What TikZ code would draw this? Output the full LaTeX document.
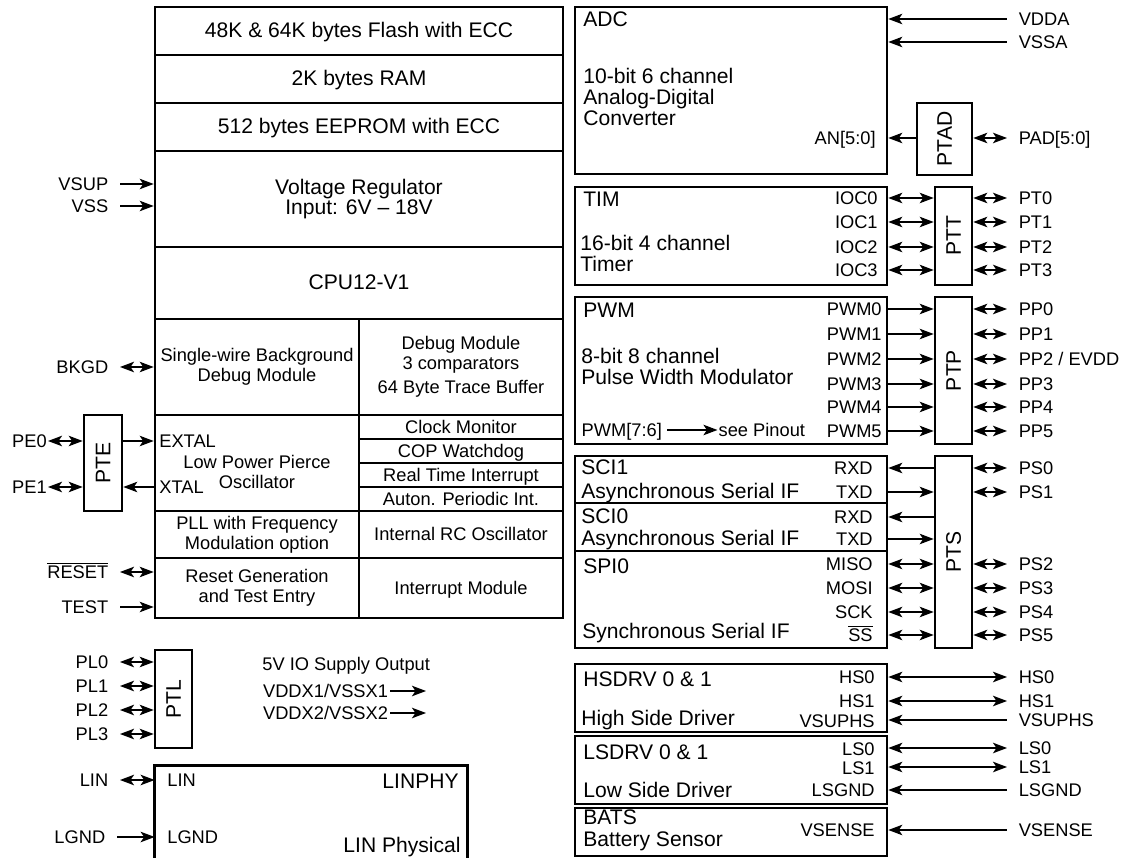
\documentclass[tikz,border=0pt]{standalone}
\usepackage{fontspec}
\setmainfont{Liberation Sans}
\usepackage {tikz}
\usetikzlibrary {positioning}
\usetikzlibrary{fit}
\usetikzlibrary{arrows.meta}
\tikzset{
    box/.style = {draw, line width=1.5pt, inner sep=0pt},
    big/.style = {font=\fontsize{12}{11.8}\selectfont},
    small/.style = {font=\fontsize{10.4}{11.4}\selectfont},
    tag/.style = {text height=0.72em, text depth=0pt, inner sep=0pt},
    ext/.style = {small, tag, inner xsep=6.5pt},
    port/.style = {big, rotate=90, inner sep=0pt}}
\begin{document}
\begin{tikzpicture}[x=0.02cm, y=-0.02cm,
    >={Stealth[length=8pt, width=6pt, inset=2pt]},
    pin/.style={line width=0.75pt},
    cell/.style={box},
    celltxt/.style={align=center, inner sep=0pt}
    ]
    \useasboundingbox (0,0) rectangle (1127,858);
    % memories, regulator, cpu
    \node[cell, fit={(155,7) (563,55)}] (FLASH) {};
    \node[big, tag] (FLASHtxt) at (FLASH) {48K \& 64K bytes Flash with ECC};
    \node[cell, fit={(155,55) (563,103)}] (RAM) {};
    \node[big, tag] (RAMtxt) at (RAM) {2K bytes RAM};
    \node[cell, fit={(155,103) (563,151)}] (EEPROM) {};
    \node[big, tag] (EEPROMtxt) at (EEPROM) {512 bytes EEPROM with ECC};
    \node[cell, fit={(155,151) (563,247)}] (VREG) {};
    \node[big, celltxt] (VREGtxt) at (VREG) {Voltage Regulator\\Input: 6V – 18V};
    \node[cell, fit={(155,247) (563,319)}] (CPU) {};
    \node[big, tag] (CPUtxt) at (CPU) {CPU12-V1};
    % debug, clocks, reset
    \node[cell, fit={(155,319) (359,415)}] (BDM) {};
    \node[small, celltxt] (BDMtxt) at (BDM) {Single-wire Background\\Debug Module};
    \node[cell, fit={(359,319) (563,415)}] (DBG) {};
    \node[small, celltxt] (DBGtxt) at (DBG) {Debug Module\\3 comparators\\[2pt]64 Byte Trace Buffer};
    \node[cell, fit={(155,415) (359,511)}] (OSC) {};
    \node[small, celltxt, anchor=north] (OSCtxt) at (257,455) {Low Power Pierce\\Oscillator};
    \node[small, tag, anchor=west] (EXTAL) at (159,441) {EXTAL};
    \node[small, tag, anchor=west] (XTAL) at (159,487) {XTAL};
    \node[cell, fit={(359,415) (563,439)}] (CLKMON) {};
    \node[small, tag] (CLKMONtxt) at (CLKMON) {Clock Monitor};
    \node[cell, fit={(359,439) (563,463)}] (COP) {};
    \node[small, tag] (COPtxt) at (COP) {COP Watchdog};
    \node[cell, fit={(359,463) (563,487)}] (RTI) {};
    \node[small, tag] (RTItxt) at (RTI) {Real Time Interrupt};
    \node[cell, fit={(359,487) (563,511)}] (API) {};
    \node[small, tag] (APItxt) at (API) {Auton. Periodic Int.};
    \node[cell, fit={(155,511) (359,558)}] (PLL) {};
    \node[small, celltxt] (PLLtxt) at (PLL) {PLL with Frequency\\Modulation option};
    \node[cell, fit={(359,511) (563,558)}] (IRC) {};
    \node[small, tag] (IRCtxt) at (IRC) {Internal RC Oscillator};
    \node[cell, fit={(155,558) (359,618)}] (RST) {};
    \node[small, celltxt] (RSTtxt) at (RST) {Reset Generation\\and Test Entry};
    \node[cell, fit={(359,558) (563,618)}] (INT) {};
    \node[small, tag] (INTtxt) at (INT) {Interrupt Module};
    % left pins
    \node[ext, anchor=east] (VSUP) at (120,184) {VSUP};
    \node[ext, anchor=east] (VSS) at (120,206) {VSS};
    \node[ext, anchor=east] (BKGD) at (120,367) {BKGD};
    \node[box, fit={(84,415) (122,511)}] (PTE) {};
    \node[port] (PTEtxt) at (PTE) {PTE};
    \node[ext, inner xsep=0.5pt, anchor=east] (PE0) at (48,441) {PE0};
    \node[ext, inner xsep=0.5pt, anchor=east] (PE1) at (48,487) {PE1};
    \node[ext, anchor=east] (RESET) at (120,572) {$\overline{\mbox{RESET}}$};
    \node[ext, anchor=east] (TEST) at (120,607) {TEST};
    \draw[pin, ->] (VSUP.east) -- (VSUP -| VREG.west);
    \draw[pin, ->] (VSS.east) -- (VSS -| VREG.west);
    \draw[pin, <->] (BKGD.east) -- (BKGD -| BDM.west);
    \draw[pin, <->] (PE0.east) -- (PE0 -| PTE.west);
    \draw[pin, <->] (PE1.east) -- (PE1 -| PTE.west);
    \draw[pin, ->] (PTE.east |- EXTAL) -- (OSC.west |- EXTAL);
    \draw[pin, ->] (OSC.west |- XTAL) -- (PTE.east |- XTAL);
    \draw[pin, <->] (RESET.east) -- (RESET -| RST.west);
    \draw[pin, ->] (TEST.east) -- (TEST -| RST.west);
    % port L and supply outputs
    \node[box, fit={(155,650) (192,748)}] (PTL) {};
    \node[port] (PTLtxt) at (PTL) {PTL};
    \node[ext, anchor=east] (PL0) at (120,662) {PL0};
    \node[ext, anchor=east] (PL1) at (120,686) {PL1};
    \node[ext, anchor=east] (PL2) at (120,710) {PL2};
    \node[ext, anchor=east] (PL3) at (120,734) {PL3};
    \draw[pin, <->] (PL0.east) -- (PL0 -| PTL.west);
    \draw[pin, <->] (PL1.east) -- (PL1 -| PTL.west);
    \draw[pin, <->] (PL2.east) -- (PL2 -| PTL.west);
    \draw[pin, <->] (PL3.east) -- (PL3 -| PTL.west);
    \node[small, tag, anchor=west] (IOSUP) at (262,664) {5V IO Supply Output};
    \node[small, tag, anchor=west, inner xsep=1pt] (VDDX1) at (261,691) {VDDX1/VSSX1};
    \node[small, tag, anchor=west, inner xsep=1pt] (VDDX2) at (261,713) {VDDX2/VSSX2};
    \coordinate (VDDX1out) at (426,691);
    \coordinate (VDDX2out) at (426,713);
    \draw[pin, ->] (VDDX1.east) -- (VDDX1out);
    \draw[pin, ->] (VDDX2.east) -- (VDDX2out);
    % LIN phy
    \node[inner sep=0pt, fit={(155,766) (467,858)}] (LINPHY) {};
    \draw[box] (LINPHY.south west) |- (LINPHY.north east) -- (LINPHY.south east);
    \node[small, tag, anchor=west] (LINin) at (167,780) {LIN};
    \node[small, tag, anchor=west] (LGNDin) at (167,837) {LGND};
    \node[big, tag, anchor=east] (LINPHYname) at (459,782) {LINPHY};
    \node[big, tag, anchor=east] (LINPHYtxt) at (461,846) {LIN Physical};
    \node[ext, anchor=east] (LIN) at (120,780) {LIN};
    \node[ext, anchor=east] (LGND) at (117,837) {LGND};
    \draw[pin, <->] (LIN.east) -- (LIN -| LINPHY.west);
    \draw[pin, ->] (LGND.east) -- (LGND -| LINPHY.west);
    % ADC
    \node[box, fit={(575,7) (887,174)}] (ADC) {};
    \node[big, tag, anchor=west] (ADCname) at (583,20) {ADC};
    \node[big, align=left, anchor=north west, inner sep=0pt] (ADCtxt) at (583,68) {10-bit 6 channel\\Analog-Digital\\Converter};
    \node[small, tag, anchor=east] (AN) at (876,138) {AN[5:0]};
    \node[box, fit={(917,103) (972,175)}] (PTAD) {};
    \node[port] (PTADtxt) at (PTAD) {PTAD};
    \node[ext, anchor=west] (VDDA) at (1007,19) {VDDA};
    \node[ext, anchor=west] (VSSA) at (1007,42) {VSSA};
    \node[ext, anchor=west] (PAD) at (1007,138) {PAD[5:0]};
    \draw[pin, <-] (ADC.east |- VDDA) -- (VDDA.west);
    \draw[pin, <-] (ADC.east |- VSSA) -- (VSSA.west);
    \draw[pin, <-] (ADC.east |- AN) -- (PTAD.west |- AN);
    \draw[pin, <->] (PTAD.east |- PAD) -- (PAD.west);
    % timer
    \node[box, fit={(575,187) (887,285)}] (TIM) {};
    \node[big, tag, anchor=west] (TIMname) at (583,200) {TIM};
    \node[big, align=left, anchor=north west, inner sep=0pt] (TIMtxt) at (580,235) {16-bit 4 channel\\Timer};
    \node[small, tag, anchor=east] (IOC0) at (878,198) {IOC0};
    \node[small, tag, anchor=east] (IOC1) at (878,222) {IOC1};
    \node[small, tag, anchor=east] (IOC2) at (878,247) {IOC2};
    \node[small, tag, anchor=east] (IOC3) at (878,270) {IOC3};
    \node[box, fit={(935,187) (972,285)}] (PTT) {};
    \node[port] (PTTtxt) at (PTT) {PTT};
    \node[ext, anchor=west] (PT0) at (1007,198) {PT0};
    \node[ext, anchor=west] (PT1) at (1007,222) {PT1};
    \node[ext, anchor=west] (PT2) at (1007,247) {PT2};
    \node[ext, anchor=west] (PT3) at (1007,270) {PT3};
    \draw[pin, <->] (TIM.east |- IOC0) -- (PTT.west |- IOC0);
    \draw[pin, <->] (TIM.east |- IOC1) -- (PTT.west |- IOC1);
    \draw[pin, <->] (TIM.east |- IOC2) -- (PTT.west |- IOC2);
    \draw[pin, <->] (TIM.east |- IOC3) -- (PTT.west |- IOC3);
    \draw[pin, <->] (PTT.east |- PT0) -- (PT0.west);
    \draw[pin, <->] (PTT.east |- PT1) -- (PT1.west);
    \draw[pin, <->] (PTT.east |- PT2) -- (PT2.west);
    \draw[pin, <->] (PTT.east |- PT3) -- (PT3.west);
    % pwm
    \node[box, fit={(575,297) (887,444)}] (PWM) {};
    \node[big, tag, anchor=west] (PWMname) at (583,311) {PWM};
    \node[big, align=left, anchor=north west, inner sep=0pt] (PWMtxt) at (581,348) {8-bit 8 channel\\Pulse Width Modulator};
    \node[small, tag, inner xsep=3pt, anchor=west] (PWM76) at (576,430) {PWM[7:6]};
    \node[small, tag, inner xsep=0.5pt] (PINOUT) [right=1cm of PWM76] {see Pinout};
    \draw[pin, ->] (PWM76.east) -- (PINOUT.west);
    \node[small, tag, anchor=east] (PWM0) at (882,309) {PWM0};
    \node[small, tag, anchor=east] (PWM1) at (882,334) {PWM1};
    \node[small, tag, anchor=east] (PWM2) at (882,359) {PWM2};
    \node[small, tag, anchor=east] (PWM3) at (882,384) {PWM3};
    \node[small, tag, anchor=east] (PWM4) at (882,407) {PWM4};
    \node[small, tag, anchor=east] (PWM5) at (882,431) {PWM5};
    \node[box, fit={(935,297) (972,444)}] (PTP) {};
    \node[port] (PTPtxt) at (PTP) {PTP};
    \node[ext, anchor=west] (PP0) at (1007,309) {PP0};
    \node[ext, anchor=west] (PP1) at (1007,334) {PP1};
    \node[ext, anchor=west] (PP2) at (1007,359) {PP2 / EVDD};
    \node[ext, anchor=west] (PP3) at (1007,384) {PP3};
    \node[ext, anchor=west] (PP4) at (1007,407) {PP4};
    \node[ext, anchor=west] (PP5) at (1007,431) {PP5};
    \draw[pin, ->] (PWM.east |- PWM0) -- (PTP.west |- PWM0);
    \draw[pin, ->] (PWM.east |- PWM1) -- (PTP.west |- PWM1);
    \draw[pin, ->] (PWM.east |- PWM2) -- (PTP.west |- PWM2);
    \draw[pin, ->] (PWM.east |- PWM3) -- (PTP.west |- PWM3);
    \draw[pin, ->] (PWM.east |- PWM4) -- (PTP.west |- PWM4);
    \draw[pin, ->] (PWM.east |- PWM5) -- (PTP.west |- PWM5);
    \draw[pin, <->] (PTP.east |- PP0) -- (PP0.west);
    \draw[pin, <->] (PTP.east |- PP1) -- (PP1.west);
    \draw[pin, <->] (PTP.east |- PP2) -- (PP2.west);
    \draw[pin, <->] (PTP.east |- PP3) -- (PP3.west);
    \draw[pin, <->] (PTP.east |- PP4) -- (PP4.west);
    \draw[pin, <->] (PTP.east |- PP5) -- (PP5.west);
    % serial interfaces
    \node[box, fit={(575,456) (887,503)}] (SCI1) {};
    \node[big, tag, anchor=west] (SCI1name) at (581,468) {SCI1};
    \node[big, tag, anchor=west] (SCI1txt) at (581,492) {Asynchronous Serial IF};
    \node[small, tag, anchor=east] (RXD1) at (873,468) {RXD};
    \node[small, tag, anchor=east] (TXD1) at (873,492) {TXD};
    \node[box, fit={(575,503) (887,551)}] (SCI0) {};
    \node[big, tag, anchor=west] (SCI0name) at (581,517) {SCI0};
    \node[big, tag, anchor=west] (SCI0txt) at (581,539) {Asynchronous Serial IF};
    \node[small, tag, anchor=east] (RXD0) at (873,517) {RXD};
    \node[small, tag, anchor=east] (TXD0) at (873,539) {TXD};
    \node[box, fit={(575,551) (887,648)}] (SPI) {};
    \node[big, tag, anchor=west] (SPIname) at (583,567) {SPI0};
    \node[big, tag, anchor=west] (SPItxt) at (582,632) {Synchronous Serial IF};
    \node[small, tag, anchor=east] (MISO) at (873,564) {MISO};
    \node[small, tag, anchor=east] (MOSI) at (873,588) {MOSI};
    \node[small, tag, anchor=east] (SCK) at (873,612) {SCK};
    \node[small, tag, anchor=east] (SS) at (873,635) {$\overline{\mbox{SS}}$};
    \node[box, fit={(935,456) (972,648)}] (PTS) {};
    \node[port] (PTStxt) at (PTS) {PTS};
    \draw[pin, <-] (SCI1.east |- RXD1) -- (PTS.west |- RXD1);
    \draw[pin, ->] (SCI1.east |- TXD1) -- (PTS.west |- TXD1);
    \draw[pin, <-] (SCI0.east |- RXD0) -- (PTS.west |- RXD0);
    \draw[pin, ->] (SCI0.east |- TXD0) -- (PTS.west |- TXD0);
    \draw[pin, <->] (SPI.east |- MISO) -- (PTS.west |- MISO);
    \draw[pin, <->] (SPI.east |- MOSI) -- (PTS.west |- MOSI);
    \draw[pin, <->] (SPI.east |- SCK) -- (PTS.west |- SCK);
    \draw[pin, <->] (SPI.east |- SS) -- (PTS.west |- SS);
    \node[ext, anchor=west] (PS0) at (1007,468) {PS0};
    \node[ext, anchor=west] (PS1) at (1007,492) {PS1};
    \node[ext, anchor=west] (PS2) at (1007,564) {PS2};
    \node[ext, anchor=west] (PS3) at (1007,588) {PS3};
    \node[ext, anchor=west] (PS4) at (1007,612) {PS4};
    \node[ext, anchor=west] (PS5) at (1007,635) {PS5};
    \draw[pin, <->] (PTS.east |- PS0) -- (PS0.west);
    \draw[pin, <->] (PTS.east |- PS1) -- (PS1.west);
    \draw[pin, <->] (PTS.east |- PS2) -- (PS2.west);
    \draw[pin, <->] (PTS.east |- PS3) -- (PS3.west);
    \draw[pin, <->] (PTS.east |- PS4) -- (PS4.west);
    \draw[pin, <->] (PTS.east |- PS5) -- (PS5.west);
    % drivers and battery sensor
    \node[box, fit={(575,664) (887,732)}] (HSDRV) {};
    \node[big, tag, anchor=west] (HSname) at (583,680) {HSDRV 0 \& 1};
    \node[big, tag, anchor=west] (HStxt) at (581,719) {High Side Driver};
    \node[small, tag, anchor=east] (HS0in) at (875,677) {HS0};
    \node[small, tag, anchor=east] (HS1in) at (875,701) {HS1};
    \node[small, tag, anchor=east] (VSUPHSin) at (875,721) {VSUPHS};
    \node[ext, anchor=west] (HS0) at (1007,677) {HS0};
    \node[ext, anchor=west] (HS1) at (1007,701) {HS1};
    \node[ext, anchor=west] (VSUPHS) at (1007,720) {VSUPHS};
    \draw[pin, <->] (HSDRV.east |- HS0) -- (HS0.west);
    \draw[pin, <->] (HSDRV.east |- HS1) -- (HS1.west);
    \draw[pin, <-] (HSDRV.east |- VSUPHS) -- (VSUPHS.west);
    \node[box, fit={(575,736) (887,804)}] (LSDRV) {};
    \node[big, tag, anchor=west] (LSname) at (583,753) {LSDRV 0 \& 1};
    \node[big, tag, anchor=west] (LStxt) at (583,791) {Low Side Driver};
    \node[small, tag, anchor=east] (LS0in) at (875,749) {LS0};
    \node[small, tag, anchor=east] (LS1in) at (875,768) {LS1};
    \node[small, tag, anchor=east] (LSGNDin) at (875,790) {LSGND};
    \node[ext, anchor=west] (LS0) at (1007,748) {LS0};
    \node[ext, anchor=west] (LS1) at (1007,767) {LS1};
    \node[ext, anchor=west] (LSGND) at (1007,790) {LSGND};
    \draw[pin, <->] (LSDRV.east |- LS0) -- (LS0.west);
    \draw[pin, <->] (LSDRV.east |- LS1) -- (LS1.west);
    \draw[pin, <-] (LSDRV.east |- LSGND) -- (LSGND.west);
    \node[box, fit={(575,808) (887,856)}] (BATS) {};
    \node[big, tag, anchor=west] (BATSname) at (583,818) {BATS};
    \node[big, tag, anchor=west] (BATStxt) at (583,840) {Battery Sensor};
    \node[small, tag, anchor=east] (VSENSEin) at (875,830) {VSENSE};
    \node[ext, anchor=west] (VSENSE) at (1007,830) {VSENSE};
    \draw[pin, <-] (BATS.east |- VSENSE) -- (VSENSE.west);
\end{tikzpicture}
\end{document}
